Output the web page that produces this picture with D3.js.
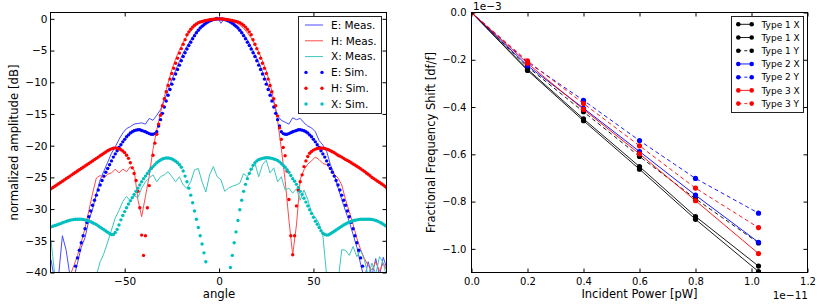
<!DOCTYPE html>
<html><head><meta charset="utf-8">
<script src="https://cdn.jsdelivr.net/npm/d3@7/dist/d3.min.js"></script>
<style>
body{margin:0;background:#fff}
svg{display:block}
text{font-family:"DejaVu Sans",sans-serif;fill:#000}
</style></head>
<body><svg id="c" width="830" height="307"></svg>
<script>
// ---------------- LEFT PANEL DATA (angle in deg, amplitude in dB) ----------------
const simAngles = d3.range(-90, 91);          // simulation grid, 1 deg
const measAngles = d3.range(-89, 90, 2);      // measurement grid, 2 deg

const eSim = [null,null,null,null,null,null,null,null,null,null,null,null,null,
 -40.3,-39.0,-37.7,-36.5,-35.3,-34.2,-33.1,-32.1,-31.2,-30.3,-29.4,-28.6,-27.8,-27.0,-26.2,-25.5,-24.8,-24.2,
 -23.6,-23.0,-22.4,-21.8,-21.3,-20.8,-20.3,-19.85,-19.4,-19.0,-18.6,-18.3,-18.0,-17.8,-17.65,-17.55,-17.5,-17.5,
 -17.6,-17.7,-17.8,-17.95,-18.1,-18.2,-18.2,-18.1,-17.8,-16.9,-15.9,-14.9,-13.9,-12.95,-12.05,-11.15,-10.3,-9.5,
 -8.7,-8.0,-7.3,-6.6,-5.95,-5.35,-4.75,-4.2,-3.7,-3.15,-2.65,-2.2,-1.8,-1.45,-1.17,-0.92,-0.7,-0.5,-0.35,-0.22,
 -0.12,-0.05,-0.01,0,
 -0.01,-0.05,-0.12,-0.22,-0.35,-0.5,-0.7,-0.92,-1.17,-1.45,-1.8,-2.2,-2.65,-3.15,-3.7,-4.2,-4.75,-5.35,-5.95,-6.6,
 -7.3,-8.0,-8.7,-9.5,-10.3,-11.15,-12.05,-12.95,-13.9,-14.9,-15.9,-16.9,-17.8,-18.1,-18.2,-18.2,-18.1,-17.95,-17.8,
 -17.7,-17.6,-17.5,-17.5,-17.55,-17.65,-17.8,-18.0,-18.3,-18.6,-19.0,-19.4,-19.85,-20.3,-20.8,-21.3,-21.8,-22.4,
 -23.0,-23.6,-24.2,-24.8,-25.5,-26.2,-27.0,-27.8,-28.6,-29.4,-30.3,-31.2,-32.1,-33.1,-34.2,-35.3,-36.5,-37.7,-39.0,
 -40.3,null,null,null,null,null,null,null,null,null,null,null,null,null];

const hSim = [-26.9,-26.8,-26.6,-26.4,-26.2,-26.0,-25.8,-25.6,-25.4,-25.2,-25.0,-24.8,-24.6,-24.4,-24.2,-24.0,
 -23.8,-23.6,-23.4,-23.2,-23.0,-22.8,-22.6,-22.4,-22.2,-22.0,-21.8,-21.6,-21.4,-21.2,-21.0,-20.8,-20.65,-20.5,
 -20.4,-20.35,-20.4,-20.5,-20.65,-20.85,-21.1,-21.5,-22.0,-22.7,-23.5,-24.4,-25.5,-27.2,-29.8,-34.1,-37.3,-34.2,
 -29.8,-26.3,-23.6,-21.5,-19.6,-18.2,-16.6,-15.2,-13.7,-12.6,-11.5,-10.5,-9.5,-8.6,-7.8,-7.0,-6.2,-5.4,-4.7,-4.0,
 -3.3,-2.5,-2.05,-1.65,-1.3,-1.02,-0.8,-0.62,-0.5,-0.42,-0.35,-0.26,-0.2,-0.15,-0.1,-0.06,-0.03,-0.01,0,
 -0.01,-0.03,-0.06,-0.1,-0.15,-0.2,-0.26,-0.35,-0.42,-0.5,-0.62,-0.8,-1.02,-1.3,-1.65,-2.05,-2.5,-3.3,-4.0,-4.7,
 -5.4,-6.2,-7.0,-7.8,-8.6,-9.5,-10.5,-11.5,-12.6,-13.7,-15.3,-17.2,-19.0,-20.3,-21.6,-24.0,-28.5,-34.2,-37.2,-34.2,
 -29.5,-27.0,-25.7,-24.6,-23.3,-22.4,-21.7,-21.2,-20.9,-20.7,-20.55,-20.45,-20.4,-20.35,-20.4,-20.45,-20.55,-20.65,
 -20.8,-20.95,-21.1,-21.3,-21.5,-21.65,-21.8,-22.0,-22.2,-22.35,-22.5,-22.7,-22.9,-23.05,-23.25,-23.45,-23.65,
 -23.85,-24.05,-24.3,-24.5,-24.75,-25.0,-25.2,-25.4,-25.6,-25.8,-26.0,-26.2,-26.45,-26.7,-26.9];

const xSim = [-32.9,-32.8,-32.7,-32.6,-32.5,-32.4,-32.3,-32.15,-32.05,-31.95,-31.85,-31.75,-31.7,-31.65,-31.6,
 -31.6,-31.6,-31.6,-31.65,-31.7,-31.8,-31.9,-32.0,-32.15,-32.3,-32.45,-32.65,-32.85,-33.05,-33.25,-33.45,-33.65,
 -33.85,-34.0,-34.0,-33.7,-33.2,-32.5,-31.7,-31.0,-30.4,-29.8,-29.2,-28.7,-28.2,-27.7,-27.2,-26.7,-26.2,-25.7,
 -25.2,-24.8,-24.4,-24.0,-23.6,-23.3,-23.0,-22.7,-22.45,-22.25,-22.1,-22.0,-21.95,-21.95,-22.0,-22.1,-22.25,
 -22.45,-22.7,-23.0,-23.4,-24.0,-24.8,-25.7,-26.7,-27.8,-29.0,-30.3,-31.6,-32.9,-34.2,-35.5,-36.9,-38.3,-40.5,
 -42,null,null,null,null,null,null,null,null,null,-41.5,-39.2,-37.3,-35.3,-33.6,-31.8,-30.1,-28.6,-27.2,-26.1,
 -25.2,-24.4,-23.7,-23.1,-22.7,-22.4,-22.2,-22.1,-22.0,-21.95,-21.9,-21.9,-21.95,-22.0,-22.1,-22.2,-22.35,-22.55,
 -22.8,-23.1,-23.4,-23.8,-24.2,-24.7,-25.2,-25.6,-26.1,-26.6,-27.2,-27.7,-28.3,-28.9,-29.5,-30.1,-30.7,-31.3,
 -31.9,-32.4,-32.9,-33.4,-33.8,-34.0,-34.1,-34.05,-33.9,-33.7,-33.5,-33.3,-33.1,-32.9,-32.7,-32.5,-32.35,-32.2,
 -32.05,-31.95,-31.85,-31.75,-31.7,-31.65,-31.6,-31.6,-31.6,-31.6,-31.6,-31.6,-31.65,-31.7,-31.8,-31.9,-32.05,
 -32.2,-32.4,-32.6,-32.8,-33.0];

const eMeas = [-38.0,-41.5,-40.5,-34.2,-36.5,-40.5,-41.0,-38.5,-36.0,-34.5,-31.8,-30.0,-27.6,-25.4,-24.0,-22.6,
 -21.2,-20.2,-19.0,-18.0,-17.3,-17.0,-16.6,-16.5,-16.4,-16.6,-15.7,-16.0,-15.2,-14.3,-12.9,-11.2,-9.6,-8.1,-6.7,
 -5.4,-4.3,-3.3,-2.4,-1.7,-1.1,-0.6,-0.3,-0.1,0.3,-0.7,0.1,-0.4,-0.7,-1.1,-1.7,-2.4,-3.3,-4.4,-5.6,-6.9,-8.3,
 -9.8,-11.4,-13.2,-15.3,-16.0,-16.3,-16.6,-15.6,-15.9,-15.7,-16.4,-16.9,-17.2,-17.8,-19.2,-19.9,-20.9,-23.0,
 -24.5,-26.6,-28.5,-30.3,-32.0,-34.0,-36.0,-38.7,-41.0,-38.3,-40.5,-37.8,-40.5,-37.6,-39.5];

const hMeas = [-42,-41.5,-42,-41,-42,-40.5,-39.0,-37.3,-35.2,-33.0,-30.3,-27.5,-25.1,-24.7,-25.1,-24.5,-24.3,
 -23.7,-24.3,-23.7,-24.1,-23.3,-23.8,-28.5,-31.2,-28.0,-24.8,-20.6,-17.5,-14.8,-12.3,-10.1,-8.0,-6.3,-4.9,-3.7,
 -2.7,-1.9,-1.25,-0.75,-0.4,-0.15,-0.05,0,0,0,-0.05,-0.15,-0.35,-0.6,-1.0,-1.5,-2.2,-3.0,-4.0,-5.2,-6.6,-8.2,
 -10.2,-12.8,-16.0,-20.5,-25.5,-31.7,-37.2,-32.5,-25.3,-23.8,-22.9,-22.4,-21.8,-22.2,-22.8,-23.0,-23.7,-24.5,
 -25.1,-26.2,-28.5,-30.4,-32.4,-34.6,-36.4,-37.8,-38.9,-39.6,-38.3,-39.8,-38.5,-39.8];

const xMeas = [-35.0,-40.5,-42,-42,-42,-42,-42,-42,-42,-42,-42,-42,-40.5,-38.3,-37.0,-35.2,-33.3,-31.4,-30.2,
 -28.8,-28.0,-28.7,-27.9,-28.2,-26.7,-25.7,-25.1,-24.6,-25.7,-24.9,-24.6,-24.1,-24.9,-25.7,-24.9,-26.2,-26.7,
 -25.7,-23.8,-23.6,-25.7,-27.3,-24.6,-23.3,-24.9,-25.4,-27.2,-26.7,-26.4,-26.2,-25.9,-24.4,-24.9,-23.8,-22.8,
 -24.9,-23.0,-22.3,-24.3,-23.5,-25.7,-24.9,-27.0,-26.7,-27.5,-26.8,-28.6,-27.0,-28.5,-30.6,-31.3,-32.3,-34.2,
 -40.5,-42,-42,-41.5,-36.4,-36.5,-37.3,-35.9,-37.5,-36.5,-38.0,-40.5,-38.5,-40.3,-37.5,-38.5,-41];

const leftXTicks = [-50, 0, 50];
const leftYTicks = [0, -5, -10, -15, -20, -25, -30, -35, -40];
const leftLegend = ["E: Meas.", "H: Meas.", "X: Meas.", "E: Sim.", "H: Sim.", "X: Sim."];

// ---------------- RIGHT PANEL DATA (power x1e-11, shift x1e-3) ----------------
const power = [0, 0.2, 0.4, 0.6, 0.8, 1.025];
const type1Xa = [0, -0.240, -0.450, -0.652, -0.863, -1.073];
const type1Xb = [0, -0.245, -0.458, -0.663, -0.875, -1.096];
const type1Y  = [0, -0.230, -0.420, -0.609, -0.788, -0.975];
const type2X  = [0, -0.225, -0.405, -0.588, -0.773, -0.972];
const type2Y  = [0, -0.210, -0.372, -0.542, -0.702, -0.849];
const type3X  = [0, -0.215, -0.410, -0.598, -0.796, -1.020];
const type3Y  = [0, -0.205, -0.385, -0.564, -0.743, -0.910];
const rightXTicks = [0, 0.2, 0.4, 0.6, 0.8, 1.0, 1.2];
const rightYTicks = [0, -0.2, -0.4, -0.6, -0.8, -1.0];
const rightLegend = ["Type 1 X", "Type 1 X", "Type 1 Y", "Type 2 X", "Type 2 Y", "Type 3 X", "Type 3 Y"];

// ---------------- DRAWING ----------------
const svg = d3.select("#c");
const C = {b:"#0000ff", r:"#ff0000", c:"#00bfbf", k:"#000000",
           bm:"#4a4aff", rm:"#ff4a4a", cm:"#3cc6bc"};

function frame(g, x, y, xt, yt, xf, yf, fs, padY) {
  const [x0,x1] = x.range(), [y0,y1] = y.range();
  const tk = 4;
  const ax = (sel) => { sel.select(".domain").remove(); sel.selectAll("line").attr("stroke","#000");
                        sel.selectAll("text").style("font-size", fs+"px"); };
  g.append("g").attr("transform",`translate(0,${y0})`)
   .call(d3.axisBottom(x).tickValues(xt).tickSize(-tk).tickPadding(5).tickFormat(xf)).call(ax);
  g.append("g").attr("transform",`translate(0,${y1})`)
   .call(d3.axisTop(x).tickValues(xt).tickSize(-tk).tickFormat("")).call(ax);
  g.append("g").attr("transform",`translate(${x0},0)`)
   .call(d3.axisLeft(y).tickValues(yt).tickSize(-tk).tickPadding(padY).tickFormat(yf)).call(ax);
  g.append("g").attr("transform",`translate(${x1},0)`)
   .call(d3.axisRight(y).tickValues(yt).tickSize(-tk).tickFormat("")).call(ax);
  g.selectAll(".tick text").attr("font-family",'"DejaVu Sans",sans-serif');
  g.append("rect").attr("x",x0).attr("y",y1).attr("width",x1-x0).attr("height",y0-y1)
   .attr("fill","none").attr("stroke","#000").attr("stroke-width",1);
}

// ----- left panel -----
const xL = d3.scaleLinear().domain([-89.3, 88.7]).range([50.5, 386.5]);
const yL = d3.scaleLinear().domain([-40, 1]).range([272.5, 12.5]);
const gL = svg.append("g");
svg.append("clipPath").attr("id","clipL").append("rect")
   .attr("x",50.5).attr("y",12.5).attr("width",336).attr("height",260);
const pL = gL.append("g").attr("clip-path","url(#clipL)");
const measLine = d3.line().x(d=>xL(d[0])).y(d=>yL(d[1]));
[[eMeas,C.bm],[hMeas,C.rm],[xMeas,C.cm]].forEach(([vals,col])=>{
  const pts = measAngles.map((a,i)=>[a, vals[i]]);
  pL.append("path").attr("d", measLine(pts)).attr("fill","none").attr("stroke",col).attr("stroke-width",1);
});
[[eSim,C.b],[hSim,C.r],[xSim,C.c]].forEach(([vals,col])=>{
  const pts = simAngles.map((a,i)=>[a, vals[i]]).filter(d=>d[1]!==null);
  pL.append("g").selectAll("circle").data(pts).join("circle")
    .attr("cx",d=>xL(d[0])).attr("cy",d=>yL(d[1])).attr("r",1.7).attr("fill",col);
});
frame(gL, xL, yL, leftXTicks, leftYTicks, d3.format("d"), d3.format("d"), 10.5, 3);
gL.append("text").attr("x",219).attr("y",298).attr("text-anchor","middle").style("font-size","11.7px").text("angle");
gL.append("text").attr("transform","translate(18,142.5) rotate(-90)").attr("text-anchor","middle")
  .style("font-size","11.7px").text("normalized amplitude [dB]");
// legend
const lgL = gL.append("g");
lgL.append("rect").attr("x",298.5).attr("y",16.5).attr("width",83).attr("height",97)
   .attr("fill","#fff").attr("stroke","#222").attr("stroke-width",1);
leftLegend.forEach((t,i)=>{
  const yy = 25 + i*15.8;
  const col = [C.bm,C.rm,C.cm,C.b,C.r,C.c][i];
  if (i<3) lgL.append("line").attr("x1",305).attr("x2",323).attr("y1",yy).attr("y2",yy)
              .attr("stroke",col).attr("stroke-width",1);
  else [306,322].forEach(xx=>lgL.append("circle").attr("cx",xx).attr("cy",yy).attr("r",1.7).attr("fill",col));
  lgL.append("text").attr("x",331).attr("y",yy).attr("dy","0.36em").style("font-size","10.5px").text(t);
});

// ----- right panel -----
const xR = d3.scaleLinear().domain([0, 1.2]).range([471.5, 807.5]);
const yR = d3.scaleLinear().domain([-1.1, 0]).range([272.5, 12.5]);
const gR = svg.append("g");
svg.append("clipPath").attr("id","clipR").append("rect")
   .attr("x",471.5).attr("y",12.5).attr("width",336).attr("height",260);
const series = [
  [type1Xa, C.k, false], [type1Xb, C.k, false], [type1Y, C.k, true],
  [type2X, C.b, false], [type2Y, C.b, true], [type3X, C.r, false], [type3Y, C.r, true]];
const pR = gR.append("g").attr("clip-path","url(#clipR)");
const lineR = d3.line().x(d=>xR(d[0])).y(d=>yR(d[1]));
series.forEach(([vals,col,dash])=>{
  const pts = power.map((p,i)=>[p, vals[i]]);
  pR.append("path").attr("d",lineR(pts)).attr("fill","none").attr("stroke",col).attr("stroke-width",0.9)
    .attr("stroke-dasharray", dash ? "4,3" : null);
  pR.append("g").selectAll("circle").data(pts).join("circle")
    .attr("cx",d=>xR(d[0])).attr("cy",d=>yR(d[1])).attr("r",2.6).attr("fill",col);
});
frame(gR, xR, yR, rightXTicks, rightYTicks, d3.format(".1f"), d3.format(".1f"), 10, 5);
gR.append("text").attr("x",473).attr("y",10).style("font-size","10.5px").text("1e\u22123");
gR.append("text").attr("x",808).attr("y",299).attr("text-anchor","end").style("font-size","10.5px").text("1e\u221211");
gR.append("text").attr("x",639.5).attr("y",298).attr("text-anchor","middle").style("font-size","11.5px").text("Incident Power [pW]");
gR.append("text").attr("transform","translate(435,142.5) rotate(-90)").attr("text-anchor","middle")
  .style("font-size","11.5px").text("Fractional Frequency Shift [df/f]");
const lgR = gR.append("g");
lgR.append("rect").attr("x",731.5).attr("y",16.5).attr("width",72).attr("height",96)
   .attr("fill","#fff").attr("stroke","#222").attr("stroke-width",1);
rightLegend.forEach((t,i)=>{
  const yy = 24.3 + i*13.22;
  const [ , col, dash] = series[i];
  lgR.append("line").attr("x1",738.3).attr("x2",751.7).attr("y1",yy).attr("y2",yy)
     .attr("stroke",col).attr("stroke-width",0.9).attr("stroke-dasharray", dash ? "3,3" : null);
  [738.3,751.7].forEach(xx=>lgR.append("circle").attr("cx",xx).attr("cy",yy).attr("r",2.3).attr("fill",col));
  lgR.append("text").attr("x",761.5).attr("y",yy).attr("dy","0.36em").style("font-size","9px").text(t);
});
</script></body></html>
